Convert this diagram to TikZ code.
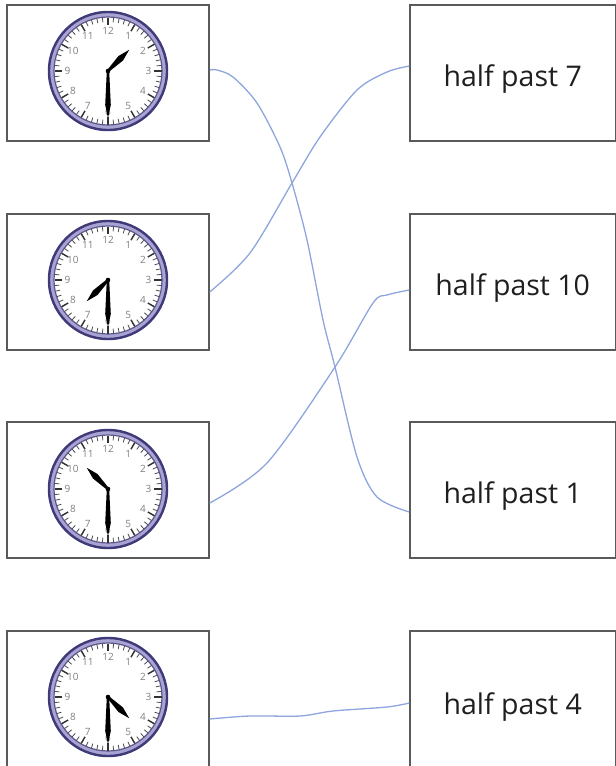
\documentclass[tikz,border=0pt]{standalone}
\usepackage{fontspec}
\setmainfont{Open Sans}
\definecolor{ringdark}{HTML}{3F3A78}
\definecolor{ringmid}{HTML}{A8A3D2}
\definecolor{connc}{HTML}{8FA5DD}
\definecolor{boxline}{HTML}{5A5A5A}
\tikzset{
  lbox/.style={draw=boxline, line width=1.4, minimum width=202, minimum height=136, inner sep=0},
  rbox/.style={draw=boxline, line width=1.4, minimum width=205.5, minimum height=136, inner sep=0,
    font=\fontsize{28.5}{32}\selectfont, text=black!88, text height=33, text depth=7},
  numtext/.style={font=\fontsize{10}{11}\selectfont, text=black!50, inner sep=0},
  connline/.style={draw=connc, line width=1.3},
  pics/clock/.style={code={
    \fill[ringmid] (0,0) circle (60);
    \draw[ringdark,line width=2.4] (0,0) circle (59);
    \fill[white] (0,0) circle (54);
    \draw[ringdark!85,line width=1.2] (0,0) circle (54);
    \foreach \i in {0,...,59} \draw[black!70,line width=0.8] (\i*6:49) -- (\i*6:53.5);
    \foreach \i in {0,...,11} \draw[black!80,line width=1.4] (\i*30:46) -- (\i*30:53.5);
    \foreach \n in {1,...,12} \node[numtext] at ({90-\n*30}:40.5) {\n};
    \fill[black,rotate=#1] (0,-1.2) -- (18,-3.2) -- (30,0) -- (18,3.2) -- (0,1.2) -- cycle;
    \fill[black,rotate=-90] (0,-1.2) -- (34,-2.8) -- (47,0) -- (34,2.8) -- (0,1.2) -- cycle;
    \fill[black] (0,0) circle (2.3);
  }}
}
\begin{document}
\begin{tikzpicture}[x=1pt,y=1pt]
\useasboundingbox (0,0) rectangle (616,-766);
% left boxes
\node[lbox] (L1) at (108,-73) {};
\node[lbox] (L2) at (108,-282) {};
\node[lbox] (L3) at (108,-490) {};
\node[lbox, minimum height=140] (L4) at (108,-701) {};
% clocks
\pic at (108,-71) {clock=45};
\pic at (108,-280) {clock=-135};
\pic at (108,-489) {clock=135};
\pic at (108,-697) {clock=-45};
% right boxes
\node[rbox] (R1) at (512.75,-73) {half past 7};
\node[rbox] (R2) at (512.75,-282) {half past 10};
\node[rbox] (R3) at (512.75,-490) {half past 1};
\node[rbox, minimum height=140] (R4) at (512.75,-701) {half past 4};
% connectors
\draw[connline] plot[smooth] coordinates {([yshift=3]L1.east) (217,-70) (233,-77) (257,-103) (280,-147) (292,-183) (307,-240) (323,-320) (335,-367) (357,-457) (377,-497) ([yshift=-22]R3.west)};
\draw[connline] plot[smooth] coordinates {([yshift=-10]L2.east) (250,-253) (292,-183) (320,-137) (357,-90) (387,-72) ([yshift=7]R1.west)};
\draw[connline] plot[smooth] coordinates {([yshift=-13]L3.east) (267,-463) (335,-367) (373,-303) (387,-295) ([yshift=-8]R2.west)};
\draw[connline] plot[smooth] coordinates {([yshift=-18]L4.east) (250,-716) (300,-716) (333,-711) (387,-707) ([yshift=-2]R4.west)};
\end{tikzpicture}
\end{document}
